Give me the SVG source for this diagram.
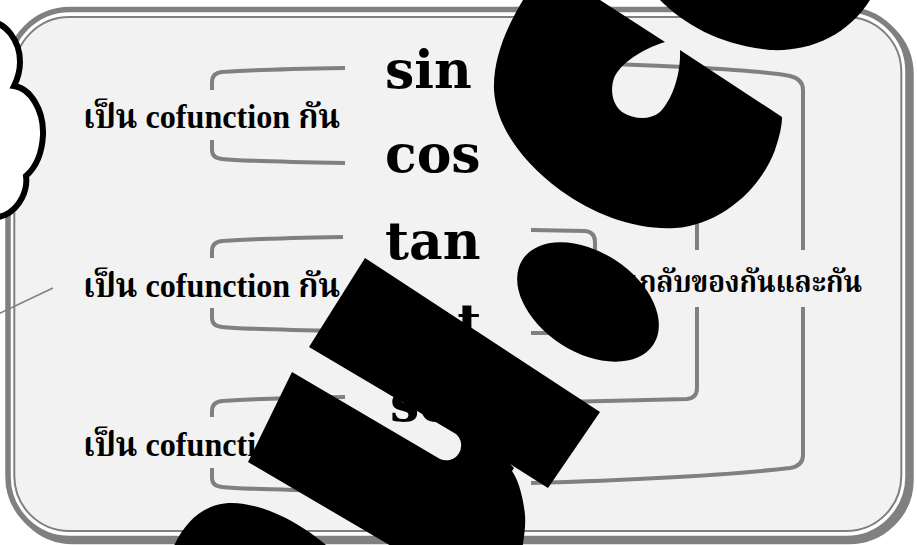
<svg xmlns="http://www.w3.org/2000/svg" width="917" height="545" viewBox="0 0 917 545">
<style>
.br{fill:none;stroke:#808080;stroke-width:4}
.fn{font-family:"DejaVu Serif",serif;font-weight:bold;font-size:52px;fill:#000}
.lbl{font-family:"Liberation Serif","Noto Serif Thai","Noto Sans Thai",serif;font-weight:bold;font-size:34px;fill:#000}
.rl{font-family:"Noto Serif Thai","Noto Sans Thai","Liberation Serif",serif;font-weight:bold;font-size:30px;fill:#000}
.blk{fill:#000}
</style>
<g id="frame">
<rect x="11" y="12.5" width="900" height="529" rx="62" fill="none" stroke="#808080" stroke-width="5.5"/>
<rect x="8" y="9.5" width="900" height="529" rx="62" fill="#fff" stroke="#808080" stroke-width="5.5"/>
<rect x="14.3" y="17" width="887" height="514" rx="55" fill="#f2f2f2" stroke="#808080" stroke-width="2"/>
</g>
<g id="connectors">
<path class="br" d="M345,68 C290,69 240,70 222,72 Q212,73 212,82 L212,90"/>
<path class="br" d="M212,140 L212,150 Q212,158 222,159 C240,161 290,162 345,163"/>
<path class="br" d="M343,237 C290,238 240,239 222,241 Q212,242 212,251 L212,258"/>
<path class="br" d="M212,308 L212,318 Q212,326 222,327 C240,329 290,330 345,331"/>
<path class="br" d="M345,397 C290,398 240,399 222,401 Q212,402 212,411 L212,417"/>
<path class="br" d="M212,468 L212,478 Q212,486 222,487 C240,489 290,490 345,491"/>
<path class="br" d="M531,230 L585,231 Q595,232 595,242 L595,250"/>
<path class="br" d="M595,310 L595,323 Q595,333 585,333 L531,333"/>
<path class="br" d="M535,163 L687,165 Q697,166 697,176 L697,250"/>
<path class="br" d="M697,307 L697,388 Q697,398 687,399 C650,400 600,401 560,402"/>
<path class="br" d="M535,62 C650,64 760,70 790,76 Q803,79 803,90 L803,250"/>
<path class="br" d="M803,307 L803,455 Q803,466 790,468 C720,476 600,481 531,483"/>
</g>
<g id="sin"><text class="fn" x="385" y="88">sin</text></g>
<g id="cos"><text class="fn" x="385" y="172">cos</text></g>
<g id="tan"><text class="fn" x="385" y="259">tan</text></g>
<g id="cot"><text class="fn" x="391" y="341">cot</text></g>
<g id="sec"><text class="fn" x="390" y="421">sec</text></g>
<g id="label1"><text class="lbl" x="83" y="128" textLength="257" lengthAdjust="spacingAndGlyphs">เป็น cofunction กัน</text></g>
<g id="label2"><text class="lbl" x="83" y="297" textLength="257" lengthAdjust="spacingAndGlyphs">เป็น cofunction กัน</text></g>
<g id="label3"><text class="lbl" x="83" y="456" textLength="257" lengthAdjust="spacingAndGlyphs">เป็น cofunction กัน</text></g>
<g id="label4"><text class="rl" x="588" y="292" textLength="274" lengthAdjust="spacingAndGlyphs">ส่วนกลับของกันและกัน</text></g>
<g id="overlay">
<path class="blk" d="M523,-5 L523,0 C505,30 493,60 494,90 C496,125 520,160 560,190 C595,215 635,230 675,228 C720,225 760,190 775,150 C780,135 782,125 782,117 L680,50 C681,75 672,100 660,112 C650,120 635,120 622,112 C612,104 610,90 614,78 C620,64 640,50 665,42 L600,0 L595,-5 Z"/>
<path class="blk" d="M655,-5 L660,0 C685,25 720,45 770,50 C810,52 848,35 870,0 L870,-5 Z"/>
<ellipse class="blk" cx="588" cy="302" rx="78" ry="50" transform="rotate(33 588 302)"/>
<path class="blk" d="M365,258 L600,412 L548,488 L510,464 L514,468 L512,471 C518,480 523,495 525,515 C526,530 523,540 521,560 L415,560 L248,462 L292,372 L440,459 A15,15 0 0 0 456,434 L309,347 Z"/>
<path class="blk" d="M172,550 C185,520 205,503 232,503 C265,504 300,522 332,550 Z"/>
</g>
<g id="cloud">
<path d="M-10,22 C5,22 20,40 20,62 C20,72 17,80 14,86 C30,88 44,110 43,135 C42,155 35,168 26,176 C28,190 20,208 5,215 L-10,220 Z" fill="#fff" stroke="#000" stroke-width="6"/>
</g>
<g id="pointer"><line x1="-2" y1="314" x2="53" y2="288" stroke="#808080" stroke-width="1.5"/></g>
</svg>
